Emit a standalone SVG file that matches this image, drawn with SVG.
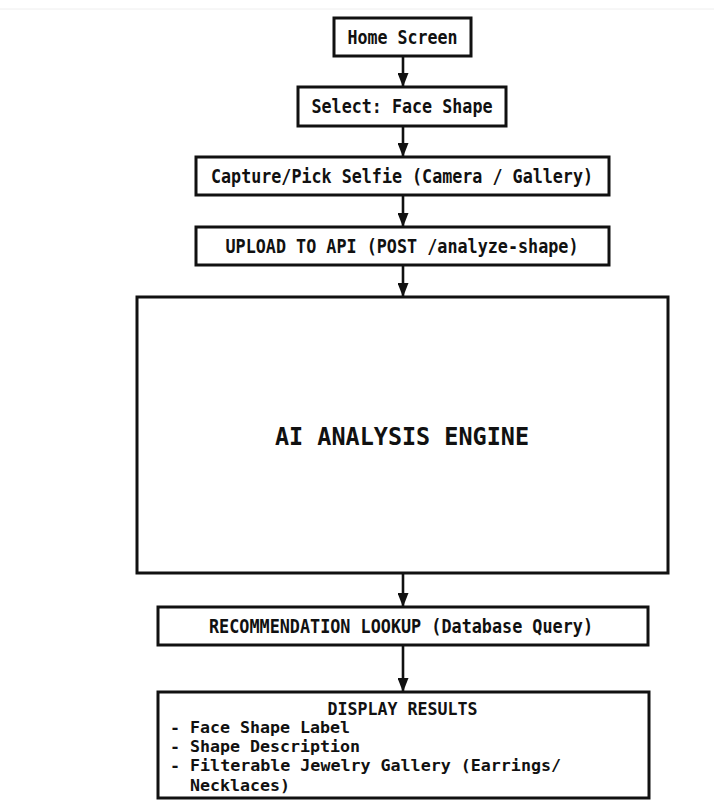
<svg xmlns="http://www.w3.org/2000/svg" width="714" height="801" viewBox="0 0 714 801">
<style>
.box{fill:#fff;stroke:#111;stroke-width:3}
.t{font-family:"DejaVu Sans Mono","Liberation Mono",monospace;font-weight:bold;fill:#111;font-size:19px}
.m{text-anchor:middle}
.s{font-size:17px}
.b{font-size:16px}
.big{font-size:25px}
.c{stroke:#111;stroke-width:2.6;fill:none}
</style>
<defs>
<marker id="ah" viewBox="0 0 14 11" refX="14" refY="5.5" markerWidth="14" markerHeight="11" markerUnits="userSpaceOnUse" orient="auto">
<path d="M0,0 L14,5.5 L0,11 Z" fill="#111"/>
</marker>
</defs>
<rect width="714" height="801" fill="#fff"/>
<line x1="0" y1="9" x2="714" y2="9" stroke="#eeeeee" stroke-width="1"/>
<g id="connectors">
<line class="c" x1="403" y1="56" x2="403" y2="87" marker-end="url(#ah)"/>
<line class="c" x1="403" y1="126" x2="403" y2="157" marker-end="url(#ah)"/>
<line class="c" x1="403" y1="195" x2="403" y2="227" marker-end="url(#ah)"/>
<line class="c" x1="403" y1="265" x2="403" y2="297" marker-end="url(#ah)"/>
<line class="c" x1="403" y1="573" x2="403" y2="607" marker-end="url(#ah)"/>
<line class="c" x1="403" y1="645" x2="403" y2="692" marker-end="url(#ah)"/>
</g>
<g id="home">
<rect class="box" x="334" y="18" width="137" height="38"/>
<text class="t m" x="402.5" y="44" textLength="110" lengthAdjust="spacingAndGlyphs">Home Screen</text>
</g>
<g id="select">
<rect class="box" x="298" y="87" width="208" height="39"/>
<text class="t m" x="402" y="113" textLength="181" lengthAdjust="spacingAndGlyphs">Select: Face Shape</text>
</g>
<g id="capture">
<rect class="box" x="196" y="157" width="413" height="38"/>
<text class="t m" x="402" y="183" textLength="382" lengthAdjust="spacingAndGlyphs">Capture/Pick Selfie (Camera / Gallery)</text>
</g>
<g id="upload">
<rect class="box" x="196" y="227" width="413" height="38"/>
<text class="t m" x="402" y="253" textLength="353" lengthAdjust="spacingAndGlyphs">UPLOAD TO API (POST /analyze-shape)</text>
</g>
<g id="ai">
<rect class="box" x="137" y="297" width="531" height="276"/>
<text class="t m big" x="402" y="445" textLength="254" lengthAdjust="spacingAndGlyphs">AI ANALYSIS ENGINE</text>
</g>
<g id="recommend">
<rect class="box" x="158" y="607" width="490" height="38"/>
<text class="t m" x="401" y="633" textLength="384" lengthAdjust="spacingAndGlyphs">RECOMMENDATION LOOKUP (Database Query)</text>
</g>
<g id="display">
<rect class="box" x="158" y="692" width="491" height="106"/>
<text class="t m s" x="402.5" y="715" textLength="150" lengthAdjust="spacingAndGlyphs">DISPLAY RESULTS</text>
<text class="t b" x="170" y="733" textLength="180" lengthAdjust="spacingAndGlyphs">- Face Shape Label</text>
<text class="t b" x="170" y="752" textLength="190" lengthAdjust="spacingAndGlyphs">- Shape Description</text>
<text class="t b" x="170" y="771" textLength="391" lengthAdjust="spacingAndGlyphs">- Filterable Jewelry Gallery (Earrings/</text>
<text class="t b" x="190" y="791" textLength="100" lengthAdjust="spacingAndGlyphs">Necklaces)</text>
</g>
</svg>
